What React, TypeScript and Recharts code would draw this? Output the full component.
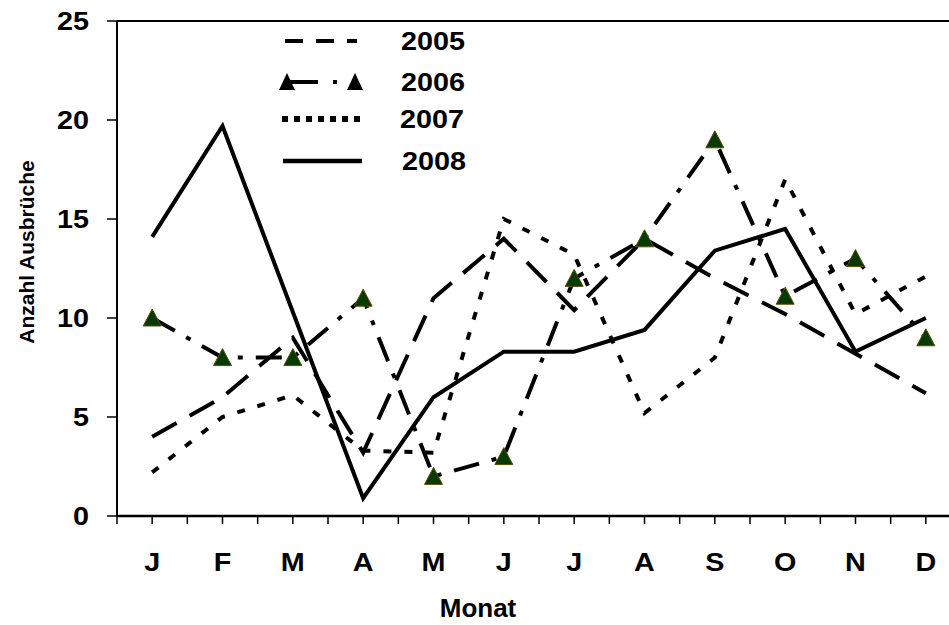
import React from 'react';
import { LineChart, Line, XAxis, YAxis, ReferenceLine } from 'recharts';

const months = ['J', 'F', 'M', 'A', 'M', 'J', 'J', 'A', 'S', 'O', 'N', 'D'];
const y2005 = [4, 6, 9, 3.2, 11, 14, 10.4, 14, 12, 10.2, 8.2, 6.2];
const y2006 = [10, 8, 8, 11, 2, 3, 12, 14, 19, 11.1, 13, 9];
const y2007 = [2.2, 5, 6.1, 3.3, 3.2, 15, 13.2, 5.2, 8, 17, 10.2, 12.1];
const y2008 = [14.1, 19.7, 10.3, 0.9, 6, 8.3, 8.3, 9.4, 13.4, 14.5, 8.3, 10];
const yTicks = [0, 5, 10, 15, 20, 25];
const seriesNames = ['2005', '2006', '2007', '2008'];
const xTitle = 'Monat';
const yTitle = 'Anzahl Ausbrüche';

const data = months.map((m, i) => ({
  pos: i + 0.5,
  month: m,
  s2005: y2005[i],
  s2006: y2006[i],
  s2007: y2007[i],
  s2008: y2008[i],
}));
// tick marks at every category centre and every boundary
const xTicks: number[] = [];
for (let i = 0; i <= months.length * 2; i++) xTicks.push(i / 2);

const FONT = '"Liberation Sans", Arial, Helvetica, sans-serif';
const SX = 1.15;

const XTick = (props: any) => {
  const { x, y, payload } = props;
  const idx = payload.value - 0.5;
  if (!Number.isInteger(idx)) return <g />;
  return (
    <text
      transform={`translate(${x},${y + 45}) scale(${SX},1)`}
      x={0}
      y={0}
      textAnchor="middle"
      fontFamily={FONT}
      fontWeight="bold"
      fontSize={25}
      fill="#000"
    >
      {months[idx]}
    </text>
  );
};

const YTick = (props: any) => {
  const { x, y, payload } = props;
  return (
    <text
      transform={`translate(${x},${y + 9}) scale(${SX},1)`}
      x={0}
      y={0}
      textAnchor="end"
      fontFamily={FONT}
      fontWeight="bold"
      fontSize={25}
      fill="#000"
    >
      {payload.value}
    </text>
  );
};

const Tri = (p: any) => {
  const { cx, cy, index } = p;
  if (cx == null || cy == null) return <g key={`t-${index}`} />;
  const pts = `${cx},${cy - 9} ${cx - 9},${cy + 8} ${cx + 9},${cy + 8}`;
  return <polygon key={`t-${index}`} points={pts} fill="#063a00" stroke="#5c4b0c" strokeWidth={1} />;
};

const legendText = (label: string, x: number, y: number) => (
  <text
    transform={`translate(${x},${y}) scale(${SX},1)`}
    x={0}
    y={0}
    fontFamily={FONT}
    fontWeight="bold"
    fontSize={25}
    fill="#000"
  >
    {label}
  </text>
);

const blackTri = (cx: number, cy: number) => (
  <polygon points={`${cx},${cy - 9} ${cx - 8},${cy + 8} ${cx + 8},${cy + 8}`} fill="#000" />
);

export default function App() {
  return (
    <div style={{ position: 'absolute', left: 0, top: 0, width: 949, height: 625, overflow: 'hidden', background: '#fff' }}>
      <LineChart width={970} height={625} data={data} margin={{ top: 21, right: 9, bottom: 49, left: 0 }}>
        <XAxis
          dataKey="pos"
          type="number"
          domain={[0, 12]}
          ticks={xTicks}
          interval={0}
          height={60}
          tickSize={8}
          tickMargin={2}
          axisLine={{ stroke: '#000', strokeWidth: 2.5 }}
          tickLine={{ stroke: '#000', strokeWidth: 1.5 }}
          tick={<XTick />}
        />
        <YAxis
          type="number"
          domain={[0, 25]}
          ticks={yTicks}
          interval={0}
          width={117}
          tickSize={10}
          tickMargin={18}
          axisLine={{ stroke: '#000', strokeWidth: 2 }}
          tickLine={{ stroke: '#000', strokeWidth: 1.5 }}
          tick={<YTick />}
        />
        <ReferenceLine y={25} stroke="#000" strokeWidth={2} ifOverflow="visible" />
        <Line dataKey="s2005" stroke="#000" strokeWidth={4} strokeDasharray="28 15" dot={false} isAnimationActive={false} />
        <Line dataKey="s2006" stroke="#000" strokeWidth={4} strokeDasharray="26 13 5 13" dot={<Tri />} isAnimationActive={false} />
        <Line dataKey="s2007" stroke="#000" strokeWidth={4} strokeDasharray="8 13" dot={false} isAnimationActive={false} />
        <Line dataKey="s2008" stroke="#000" strokeWidth={4} dot={false} isAnimationActive={false} />
      </LineChart>
      <svg width={949} height={625} style={{ position: 'absolute', left: 0, top: 0, pointerEvents: 'none' }}>
        {/* legend */}
        <line x1={285} x2={357} y1={41} y2={41} stroke="#000" strokeWidth={4} strokeDasharray="18 13" />
        {legendText(seriesNames[0], 401, 50)}
        <line x1={287} x2={318} y1={82} y2={82} stroke="#000" strokeWidth={4} />
        <line x1={333} x2={337} y1={82} y2={82} stroke="#000" strokeWidth={4} />
        {blackTri(287, 82)}
        {blackTri(355, 82)}
        {legendText(seriesNames[1], 401, 91)}
        <line x1={282} x2={360} y1={119} y2={119} stroke="#000" strokeWidth={6} strokeDasharray="6 6" />
        {legendText(seriesNames[2], 400, 128)}
        <line x1={283} x2={362} y1={161} y2={161} stroke="#000" strokeWidth={4.5} />
        {legendText(seriesNames[3], 402, 170)}
        {/* axis titles */}
        <text
          transform={`translate(478,617)`}
          textAnchor="middle"
          fontFamily={FONT}
          fontWeight="bold"
          fontSize={26}
          fill="#000"
        >
          {xTitle}
        </text>
        <text
          transform={`translate(34,252) rotate(-90)`}
          textAnchor="middle"
          fontFamily={FONT}
          fontWeight="bold"
          fontSize={21}
          fill="#000"
        >
          {yTitle}
        </text>
      </svg>
    </div>
  );
}
